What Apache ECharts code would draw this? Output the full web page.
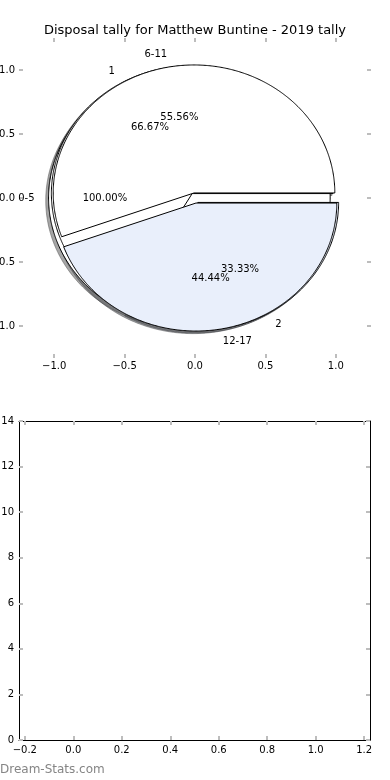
<!DOCTYPE html>
<html><head><meta charset="utf-8">
<script src="https://cdn.jsdelivr.net/npm/echarts@6/dist/echarts.min.js"></script>
<style>html,body{margin:0;padding:0;background:#fff}#c{width:390px;height:780px}</style>
</head><body><div id="c"></div>
<script>
const titleText = 'Disposal tally for Matthew Buntine - 2019 tally';
const watermarkText = 'Dream-Stats.com';
// three pies overlaid on the same axes (drawn in this order)
const pieALabels = ['0-5'];
const pieAValues = [1];
const pieBLabels = ['1', '2'];
const pieBValues = [2, 1];
const pieCLabels = ['6-11', '12-17'];
const pieCValues = [5, 4];
// tick labels
const pieTicks = [-1.0, -0.5, 0.0, 0.5, 1.0];
const barXTicks = [-0.2, 0.0, 0.2, 0.4, 0.6, 0.8, 1.0, 1.2];
const barYTicks = [0, 2, 4, 6, 8, 10, 12, 14];

const pies = [
  {labels: pieALabels, values: pieAValues},
  {labels: pieBLabels, values: pieBValues},
  {labels: pieCLabels, values: pieCValues}
];
const sliceColors = ['#ffffff', '#e9effb'];
const EXPLODE = 0.04, LABEL_DIST = 1.1, PCT_DIST = 0.6, SH = -0.02;
const FONT = '"DejaVu Sans", Verdana, sans-serif';

const slices = [];
pies.forEach((p, pi) => {
  const total = p.values.reduce((a, b) => a + b, 0);
  let cum = 0;
  p.values.forEach((v, si) => {
    const a0 = 360 * cum / total; cum += v; const a1 = 360 * cum / total;
    slices.push({pi, si, a0, a1, label: p.labels[si],
      pct: (100 * v / total).toFixed(2) + '%',
      color: sliceColors[si % sliceColors.length]});
  });
});

function wedgePoints(api, s, dx, dy) {
  const mid = (s.a0 + s.a1) / 2 * Math.PI / 180;
  const cx = EXPLODE * Math.cos(mid) + dx, cy = EXPLODE * Math.sin(mid) + dy;
  const full = (s.a1 - s.a0) >= 359.999;
  const pts = [];
  if (!full) pts.push(api.coord([cx, cy]));
  const n = Math.max(2, Math.ceil((s.a1 - s.a0) / 0.5));
  for (let k = 0; k <= n; k++) {
    const t = (s.a0 + (s.a1 - s.a0) * k / n) * Math.PI / 180;
    pts.push(api.coord([cx + Math.cos(t), cy + Math.sin(t)]));
  }
  return pts;
}
function shadowColor(hex) {
  const r = parseInt(hex.slice(1, 3), 16), g = parseInt(hex.slice(3, 5), 16), b = parseInt(hex.slice(5, 7), 16);
  return 'rgb(' + Math.round(r * 0.3) + ',' + Math.round(g * 0.3) + ',' + Math.round(b * 0.3) + ')';
}
function fmt(v) { return (v < 0 ? '\u2212' : '') + Math.abs(v).toFixed(1); }
const tickStyle = {color: '#bdbdbd', width: 2};
function ticks(vals) { return {show: true, inside: true, length: 4, customValues: vals, lineStyle: tickStyle}; }
const labelStyle = {fontFamily: FONT, fontSize: 10, color: '#000'};
const hiddenLine = {show: true, onZero: false, lineStyle: {color: 'rgba(0,0,0,0)', width: 1}};
const blackLine = {show: true, onZero: false, lineStyle: {color: '#000', width: 1}};

const sliceData = slices.map(() => [0, 0]);

const option = {
  animation: false,
  backgroundColor: '#fff',
  title: {text: titleText, left: 'center', top: 24, padding: 0,
    textStyle: {fontFamily: FONT, fontSize: 13, fontWeight: 'normal', color: '#000'}},
  graphic: [{type: 'text', left: 0, top: 764,
    style: {text: watermarkText, font: '12px ' + FONT, fill: '#858585'}}],
  grid: [
    {left: 19, top: 38, width: 352, height: 320, show: false, containLabel: false, outerBoundsMode: 'none'},
    {left: 19, top: 421, width: 351, height: 319, show: false, containLabel: false, outerBoundsMode: 'none'}
  ],
  xAxis: [
    {gridIndex: 0, type: 'value', min: -1.25, max: 1.25, position: 'bottom',
      axisLine: hiddenLine, splitLine: {show: false}, axisTick: ticks(pieTicks),
      axisLabel: Object.assign({customValues: pieTicks, formatter: fmt, margin: 3}, labelStyle)},
    {gridIndex: 0, type: 'value', min: -1.25, max: 1.25, position: 'top',
      axisLine: hiddenLine, splitLine: {show: false}, axisTick: ticks(pieTicks), axisLabel: {show: false}},
    {gridIndex: 1, type: 'value', min: -0.224, max: 1.224, position: 'bottom',
      axisLine: blackLine, splitLine: {show: false},
      axisTick: ticks(barXTicks),
      axisLabel: Object.assign({customValues: barXTicks, formatter: fmt, margin: 5}, labelStyle)},
    {gridIndex: 1, type: 'value', min: -0.224, max: 1.224, position: 'top',
      axisLine: blackLine, splitLine: {show: false},
      axisTick: ticks(barXTicks), axisLabel: {show: false}}
  ],
  yAxis: [
    {gridIndex: 0, type: 'value', min: -1.25, max: 1.25, position: 'left',
      axisLine: hiddenLine, splitLine: {show: false}, axisTick: ticks(pieTicks),
      axisLabel: Object.assign({customValues: pieTicks, formatter: fmt, margin: 4}, labelStyle)},
    {gridIndex: 0, type: 'value', min: -1.25, max: 1.25, position: 'right',
      axisLine: hiddenLine, splitLine: {show: false}, axisTick: ticks(pieTicks), axisLabel: {show: false}},
    {gridIndex: 1, type: 'value', min: 0, max: 14, position: 'left',
      axisLine: blackLine, splitLine: {show: false},
      axisTick: ticks(barYTicks),
      axisLabel: Object.assign({customValues: barYTicks, formatter: v => String(v), margin: 5}, labelStyle)},
    {gridIndex: 1, type: 'value', min: 0, max: 14, position: 'right',
      axisLine: blackLine, splitLine: {show: false},
      axisTick: ticks(barYTicks), axisLabel: {show: false}}
  ],
  series: [
    {type: 'custom', name: 'shadows', xAxisIndex: 0, yAxisIndex: 0, z: 2, clip: false, silent: true,
      data: sliceData,
      renderItem: (params, api) => {
        const s = slices[params.dataIndex];
        const c = shadowColor(s.color);
        return {type: 'polygon', shape: {points: wedgePoints(api, s, SH, SH)},
          style: {fill: c, stroke: c, lineWidth: 1, opacity: 0.5}};
      }},
    {type: 'custom', name: 'wedges', xAxisIndex: 0, yAxisIndex: 0, z: 3, clip: false, silent: true,
      data: sliceData,
      renderItem: (params, api) => {
        const s = slices[params.dataIndex];
        return {type: 'polygon', z2: params.dataIndex, shape: {points: wedgePoints(api, s, 0, 0)},
          style: {fill: s.color, stroke: '#000', lineWidth: 1, lineJoin: 'miter'}};
      }},
    {type: 'custom', name: 'labels', xAxisIndex: 0, yAxisIndex: 0, z: 4, clip: false, silent: true,
      data: sliceData,
      renderItem: (params, api) => {
        const s = slices[params.dataIndex];
        const mid = (s.a0 + s.a1) / 2 * Math.PI / 180;
        const xt = (EXPLODE + LABEL_DIST) * Math.cos(mid), yt = (EXPLODE + LABEL_DIST) * Math.sin(mid);
        const xp = (EXPLODE + PCT_DIST) * Math.cos(mid), yp = (EXPLODE + PCT_DIST) * Math.sin(mid);
        const pl = api.coord([xt, yt]), pp = api.coord([xp, yp]);
        return {type: 'group', children: [
          {type: 'text', x: pl[0], y: pl[1], style: {text: s.label, font: '10px ' + FONT, fill: '#000',
            align: xt > 0 ? 'left' : 'right', verticalAlign: 'middle'}},
          {type: 'text', x: pp[0], y: pp[1], style: {text: s.pct, font: '10px ' + FONT, fill: '#000',
            align: 'center', verticalAlign: 'middle'}}
        ]};
      }},
    {type: 'line', xAxisIndex: 2, yAxisIndex: 2, data: [], silent: true}
  ]
};
const chart = echarts.init(document.getElementById('c'), null, {renderer: 'canvas'});
chart.setOption(option);
</script>
</body></html>
